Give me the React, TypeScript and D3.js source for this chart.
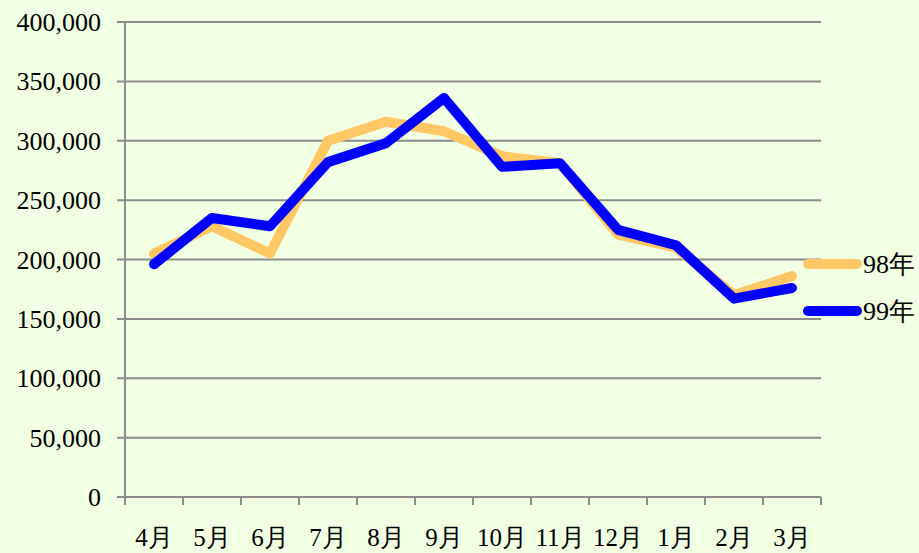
import { useEffect, useRef } from 'react';
import * as d3 from 'd3';

const months = ['4月', '5月', '6月', '7月', '8月', '9月', '10月', '11月', '12月', '1月', '2月', '3月'];
const values98 = [205000, 228000, 205000, 300000, 316000, 308000, 287000, 281000, 221000, 210000, 170000, 186000];
const values99 = [196000, 235000, 228000, 282000, 298000, 336000, 278000, 281000, 225000, 212000, 167000, 176000];
const yTicks = [0, 50000, 100000, 150000, 200000, 250000, 300000, 350000, 400000];

const seriesList = [
  { name: '98年', values: values98, color: '#FFC864' },
  { name: '99年', values: values99, color: '#0000FF' },
];

const W = 919;
const H = 553;
const FONT = "'Liberation Serif', 'Times New Roman', serif";

export default function App() {
  const svgRef = useRef<SVGSVGElement>(null);

  useEffect(() => {
    if (!svgRef.current) return;
    const svg = d3.select(svgRef.current);
    svg.selectAll('*').remove();

    const left = 125, right = 821, top = 22, bottom = 497;

    svg.append('rect').attr('width', W).attr('height', H).attr('fill', '#F1FFE2');

    const x = d3.scaleBand().domain(months).range([left, right]);
    const y = d3.scaleLinear().domain([0, 400000]).range([bottom, top]);

    // 横グリッド
    svg.append('g')
      .selectAll('line')
      .data(yTicks)
      .join('line')
      .attr('x1', left - 8)
      .attr('x2', right)
      .attr('y1', d => y(d))
      .attr('y2', d => y(d))
      .attr('stroke', '#8c8c8c')
      .attr('stroke-width', 2);

    // Y軸
    svg.append('line')
      .attr('x1', left).attr('x2', left)
      .attr('y1', top).attr('y2', bottom + 1)
      .attr('stroke', '#8c8c8c').attr('stroke-width', 2);

    svg.append('g')
      .selectAll('text')
      .data(yTicks)
      .join('text')
      .attr('x', 101)
      .attr('y', d => y(d))
      .attr('dy', '0.35em')
      .attr('text-anchor', 'end')
      .attr('font-family', FONT)
      .attr('font-size', 26)
      .attr('fill', '#000')
      .text(d => d3.format(',')(d));

    // X軸の目盛り
    const tickXs = months.map(m => x(m) as number).concat([right]);
    svg.append('g')
      .selectAll('line')
      .data(tickXs)
      .join('line')
      .attr('x1', d => d).attr('x2', d => d)
      .attr('y1', bottom).attr('y2', bottom + 8)
      .attr('stroke', '#8c8c8c').attr('stroke-width', 2);

    svg.append('g')
      .selectAll('text')
      .data(months)
      .join('text')
      .attr('x', d => (x(d) as number) + x.bandwidth() / 2)
      .attr('y', 546)
      .attr('text-anchor', 'middle')
      .attr('font-family', FONT)
      .attr('font-size', 25)
      .attr('fill', '#000')
      .text(d => d);

    const line = d3.line<number>()
      .x((_, i) => (x(months[i]) as number) + x.bandwidth() / 2)
      .y(d => y(d));

    seriesList.forEach((s, i) => {
      svg.append('path')
        .datum(s.values)
        .attr('d', line)
        .attr('fill', 'none')
        .attr('stroke', s.color)
        .attr('stroke-width', 10)
        .attr('stroke-linecap', 'round')
        .attr('stroke-linejoin', 'round');

      // 凡例
      const ly = 264 + i * 47;
      svg.append('line')
        .attr('x1', 808).attr('x2', 857)
        .attr('y1', ly).attr('y2', ly)
        .attr('stroke', s.color)
        .attr('stroke-width', 10)
        .attr('stroke-linecap', 'round');
      svg.append('text')
        .attr('x', 863)
        .attr('y', ly)
        .attr('dy', '0.35em')
        .attr('font-family', FONT)
        .attr('font-size', 26)
        .attr('fill', '#000')
        .text(s.name);
    });
  }, []);

  return (
    <div style={{ position: 'absolute', left: 0, top: 0 }}>
      <svg ref={svgRef} width={W} height={H} style={{ display: 'block' }}></svg>
    </div>
  );
}
